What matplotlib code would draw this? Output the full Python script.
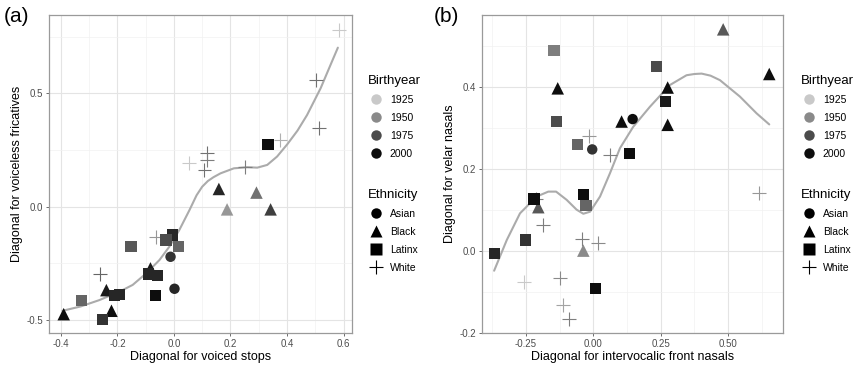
import numpy as np
import matplotlib
matplotlib.use("Agg")
import matplotlib.pyplot as plt
from matplotlib.colors import LinearSegmentedColormap, Normalize
from matplotlib.lines import Line2D

plt.rcParams["font.family"] = ["Liberation Sans", "DejaVu Sans"]

# ---------- panel (a): voiced stops vs voiceless fricatives ----------
a_white_x = [0.584, 0.504, 0.513, 0.377, 0.253, 0.117, 0.117, 0.108, 0.052, -0.062, -0.260]
a_white_y = [0.777, 0.559, 0.346, 0.294, 0.176, 0.235, 0.206, 0.162, 0.191, -0.132, -0.297]
a_white_yr = [1925, 1960, 1960, 1935, 1955, 1960, 1955, 1960, 1925, 1945, 1965]

a_black_x = [0.159, 0.188, 0.292, 0.342, -0.083, -0.239, -0.221, -0.390]
a_black_y = [0.078, -0.012, 0.062, -0.012, -0.272, -0.368, -0.459, -0.474]
a_black_yr = [1990, 1945, 1960, 1980, 1995, 1995, 2000, 2000]

a_latinx_x = [0.333, -0.004, -0.028, 0.015, -0.152, -0.089, -0.057, -0.065, -0.192, -0.209, -0.327, -0.253]
a_latinx_y = [0.275, -0.125, -0.147, -0.176, -0.176, -0.297, -0.303, -0.390, -0.387, -0.391, -0.415, -0.497]
a_latinx_yr = [2000, 1990, 1975, 1965, 1970, 1990, 1990, 2000, 1990, 1990, 1965, 1985]

a_asian_x = [-0.012, 0.002]
a_asian_y = [-0.221, -0.362]
a_asian_yr = [1985, 1990]

a_fit_x = [-0.394, -0.330, -0.264, -0.193, -0.146, -0.098, -0.051, -0.016, 0.019, 0.055, 0.080,
           0.100, 0.120, 0.140, 0.165, 0.212, 0.259, 0.295, 0.330, 0.365, 0.401, 0.437, 0.471,
           0.519, 0.554, 0.580]
a_fit_y = [-0.459, -0.440, -0.412, -0.375, -0.345, -0.294, -0.235, -0.176, -0.103, -0.015, 0.050,
           0.088, 0.113, 0.130, 0.147, 0.169, 0.174, 0.172, 0.184, 0.221, 0.275, 0.335, 0.404,
           0.522, 0.625, 0.701]

# ---------- panel (b): front nasals vs velar nasals ----------
b_white_x = [-0.015, 0.062, 0.616, -0.213, -0.185, -0.043, 0.019, -0.256, -0.124, -0.111, -0.089]
b_white_y = [0.280, 0.233, 0.140, 0.125, 0.063, 0.028, 0.018, -0.076, -0.067, -0.133, -0.167]
b_white_yr = [1945, 1955, 1945, 1955, 1955, 1955, 1950, 1925, 1950, 1940, 1955]

b_black_x = [0.482, 0.653, -0.132, 0.276, 0.276, 0.105, -0.204, -0.037]
b_black_y = [0.540, 0.431, 0.396, 0.398, 0.307, 0.315, 0.106, 0.000]
b_black_yr = [1970, 2000, 2000, 2000, 2000, 2000, 1970, 1950]

b_latinx_x = [-0.146, -0.136, -0.058, 0.235, 0.267, 0.136, -0.035, -0.027, -0.220, -0.253, -0.368, 0.009]
b_latinx_y = [0.488, 0.316, 0.260, 0.449, 0.363, 0.236, 0.137, 0.111, 0.126, 0.026, -0.006, -0.092]
b_latinx_yr = [1955, 1975, 1965, 1975, 1995, 2000, 2000, 1965, 2000, 1985, 1990, 2000]

b_asian_x = [0.146, -0.004]
b_asian_y = [0.321, 0.247]
b_asian_yr = [2000, 1985]

b_fit_x = [-0.368, -0.321, -0.272, -0.210, -0.167, -0.138, -0.099, -0.062, -0.037, -0.012, 0.025,
           0.062, 0.099, 0.148, 0.210, 0.284, 0.346, 0.375, 0.402, 0.435, 0.470, 0.544, 0.606, 0.653]
b_fit_y = [-0.049, 0.026, 0.091, 0.132, 0.144, 0.144, 0.124, 0.100, 0.090, 0.095, 0.132,
           0.189, 0.250, 0.302, 0.351, 0.404, 0.428, 0.431, 0.432, 0.427, 0.416, 0.376, 0.335, 0.308]

legend_years = [1925, 1950, 1975, 2000]
ethnicities = ["Asian", "Black", "Latinx", "White"]

cmap = LinearSegmentedColormap.from_list("yrs", ["#c9c9c9", "#0d0d0d"])
norm = Normalize(1925, 2000)

fig = plt.figure(figsize=(8.57, 3.68), dpi=100)
ax_a = fig.add_axes([49 / 857, 1 - 333 / 368, 303 / 857, 318 / 368])
ax_b = fig.add_axes([482 / 857, 1 - 333 / 368, 301 / 857, 318 / 368])


def style_axes(ax, xmaj, xmin, ymaj, ymin, xlim, ylim, xfmt, yfmt):
    ax.set_xlim(*xlim)
    ax.set_ylim(*ylim)
    ax.set_xticks(xmaj)
    ax.set_xticks(xmin, minor=True)
    ax.set_yticks(ymaj)
    ax.set_yticks(ymin, minor=True)
    ax.set_xticklabels([xfmt.format(v) for v in xmaj])
    ax.set_yticklabels([yfmt.format(v) for v in ymaj])
    ax.grid(which="major", color="#e4e4e4", lw=0.8)
    ax.grid(which="minor", color="#f1f1f1", lw=0.5)
    ax.set_axisbelow(True)
    ax.tick_params(which="major", length=2.5, width=0.6, color="#555555",
                   labelsize=7, labelcolor="#4d4d4d", pad=2)
    ax.tick_params(which="minor", length=0)
    for s in ax.spines.values():
        s.set_color("#9a9a9a")
        s.set_linewidth(0.9)


def draw_points(ax, groups, fit_x, fit_y):
    ax.plot(fit_x, fit_y, color="#ababab", lw=1.5, zorder=2,
            solid_joinstyle="round", solid_capstyle="round")
    for xs, ys, yrs, mk, sz in groups:
        cols = cmap(norm(np.array(yrs)))
        if mk == "+":
            ax.scatter(xs, ys, c=cols, marker="+", s=sz ** 2, linewidths=0.8, zorder=3)
        else:
            ax.scatter(xs, ys, c=cols, marker=mk, s=sz ** 2, linewidths=0, zorder=3)


draw_points(ax_a, [
    (a_white_x, a_white_y, a_white_yr, "+", 10),
    (a_black_x, a_black_y, a_black_yr, "^", 9),
    (a_latinx_x, a_latinx_y, a_latinx_yr, "s", 8),
    (a_asian_x, a_asian_y, a_asian_yr, "o", 7.5),
], a_fit_x, a_fit_y)
style_axes(ax_a, [-0.4, -0.2, 0.0, 0.2, 0.4, 0.6], [-0.3, -0.1, 0.1, 0.3, 0.5],
           [-0.5, 0.0, 0.5], [-0.25, 0.25, 0.75], (-0.442, 0.63), (-0.557, 0.845),
           "{:.1f}", "{:.1f}")
ax_a.set_xlabel("Diagonal for voiced stops", fontsize=9, labelpad=1)
ax_a.set_ylabel("Diagonal for voiceless fricatives", fontsize=9, labelpad=2)

draw_points(ax_b, [
    (b_white_x, b_white_y, b_white_yr, "+", 10),
    (b_black_x, b_black_y, b_black_yr, "^", 9),
    (b_latinx_x, b_latinx_y, b_latinx_yr, "s", 8),
    (b_asian_x, b_asian_y, b_asian_yr, "o", 7.5),
], b_fit_x, b_fit_y)
style_axes(ax_b, [-0.25, 0.0, 0.25, 0.5], [-0.375, -0.125, 0.125, 0.375, 0.625],
           [-0.2, 0.0, 0.2, 0.4], [-0.1, 0.1, 0.3, 0.5], (-0.413, 0.704), (-0.201, 0.575),
           "{:.2f}", "{:.1f}")
ax_b.set_xlabel("Diagonal for intervocalic front nasals", fontsize=9, labelpad=1)
ax_b.set_ylabel("Diagonal for velar nasals", fontsize=9, labelpad=2)

fig.text(4 / 857, 1 - 17 / 368, "(a)", fontsize=15, va="center", ha="left")
fig.text(434 / 857, 1 - 17 / 368, "(b)", fontsize=15, va="center", ha="left")

# legends
yr_handles = [Line2D([], [], ls="", marker="o", ms=7.5, mec="none", mfc=cmap(norm(y)))
              for y in legend_years]
eth_handles = [Line2D([], [], ls="", marker=m, ms=s, mec="black" if m == "+" else "none",
                      mfc="black", mew=0.8, color="black")
               for m, s in zip(["o", "^", "s", "+"], [7.5, 9, 8, 10])]

leg_kw = dict(loc="upper left", frameon=False, fontsize=7.5, title_fontsize=9.5,
              alignment="left", handletextpad=0.5, labelspacing=0.76, handlelength=1.6,
              borderpad=0.0, borderaxespad=0.0)
for xpx in [368, 801]:
    fig.legend(yr_handles, [str(y) for y in legend_years], title="Birthyear",
               bbox_to_anchor=(xpx / 857, 1 - 75 / 368), **leg_kw)
    fig.legend(eth_handles, ethnicities, title="Ethnicity",
               bbox_to_anchor=(xpx / 857, 1 - 189 / 368), **leg_kw)

fig.savefig("out.png", dpi=100)
